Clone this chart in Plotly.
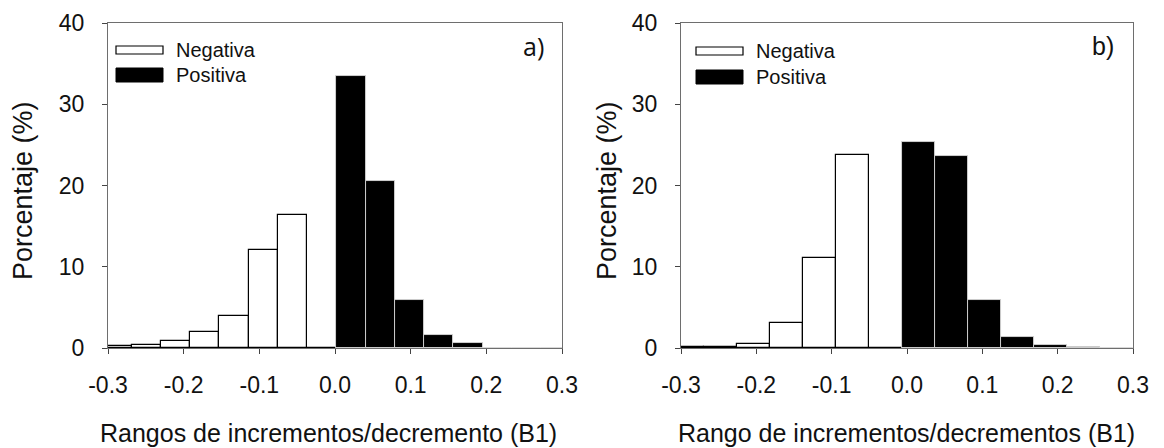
import plotly.graph_objects as go

# ---------------- data ----------------
# panel a) bin centres and percentages
bins_a = [-0.2881, -0.2494, -0.2107, -0.1721, -0.1334, -0.0948, -0.0561, -0.0175,
          0.0212, 0.0599, 0.0985, 0.1372, 0.1758, 0.2145, 0.2531, 0.2918]
width_a = 0.0387
neg_a = [0.25, 0.38, 0.9, 1.93, 3.93, 12.1, 16.4, 0.0]
pos_a = [33.5, 20.5, 5.85, 1.65, 0.57, 0.05, 0.03, 0.03]

# panel b) bin centres and percentages
bins_b = [-0.2918, -0.2480, -0.2042, -0.1604, -0.1166, -0.0728, -0.0290,
          0.0148, 0.0586, 0.1024, 0.1462, 0.1900, 0.2338, 0.2777]
width_b = 0.0438
neg_b = [0.1, 0.1, 0.45, 3.07, 11.1, 23.7, 0.0]
pos_b = [25.3, 23.6, 5.9, 1.35, 0.37, 0.16, 0.0]

x_ticks = [-0.3, -0.2, -0.1, 0.0, 0.1, 0.2, 0.3]
x_ticklabels = ["-0.3", "-0.2", "-0.1", "0.0", "0.1", "0.2", "0.3"]
y_ticks = [0, 10, 20, 30, 40]
series_names = ["Negativa", "Positiva"]
panel_labels = ["a)", "b)"]
x_titles = ["Rangos de incrementos/decremento (B1)", "Rango de incrementos/decrementos (B1)"]
y_title = "Porcentaje (%)"

# ---------------- figure ----------------
OFF = 8                      # page body margin of the html page
W, H = 1164 - 2 * OFF, 448 - OFF
FONT = "Liberation Sans, Arial, sans-serif"
fig = go.Figure()

def add_panel(bins, w, neg, pos, xa, ya):
    nn = len(neg)
    fig.add_trace(go.Bar(x=bins[:nn], y=neg, width=[w] * nn, name=series_names[0],
                         marker=dict(color="white", line=dict(color="black", width=1.2)),
                         xaxis=xa, yaxis=ya, showlegend=False))
    fig.add_trace(go.Bar(x=bins[nn:], y=pos, width=[w] * len(pos), name=series_names[1],
                         marker=dict(color="black", line=dict(color="#d8d8d8", width=0.9)),
                         xaxis=xa, yaxis=ya, showlegend=False))

add_panel(bins_a, width_a, neg_a, pos_a, "x", "y")
add_panel(bins_b, width_b, neg_b, pos_b, "x2", "y2")

def px(x):
    return (x - OFF) / W

def py(y):
    return 1 - (y - OFF) / H

ydom = [py(348), py(23)]
axis_common = dict(showgrid=False, zeroline=False, showline=True, linecolor="#6e6e6e",
                   linewidth=1, mirror=True, ticks="outside", ticklen=5, tickwidth=1,
                   tickcolor="#444444", tickfont=dict(family=FONT, size=23, color="#111111"),
                   automargin=False)

xa = dict(axis_common, range=[-0.3, 0.3], tickvals=x_ticks, ticktext=x_ticklabels,
          ticklabelstandoff=11)
ya = dict(axis_common, range=[0, 40], tickvals=y_ticks, ticklabelstandoff=13)

fig.update_layout(
    width=W, height=H, margin=dict(l=0, r=0, t=0, b=0),
    paper_bgcolor="white", plot_bgcolor="white", barmode="overlay", bargap=0,
    xaxis=dict(xa, domain=[px(108), px(562)], anchor="y"),
    yaxis=dict(ya, domain=ydom, anchor="x"),
    xaxis2=dict(xa, domain=[px(681), px(1133)], anchor="y2"),
    yaxis2=dict(ya, domain=ydom, anchor="x2"),
)

shapes = []
annotations = []
# axis titles
for cx, t in zip([328, 907], x_titles):
    annotations.append(dict(x=px(cx), y=py(433), xref="paper", yref="paper", text=t,
                            showarrow=False, xanchor="center", yanchor="middle",
                            font=dict(family=FONT, size=25, color="#111111")))
for cx in [23, 607]:
    annotations.append(dict(x=px(cx), y=py(191), xref="paper", yref="paper", text=y_title,
                            showarrow=False, textangle=-90, xanchor="center", yanchor="middle",
                            font=dict(family=FONT, size=27, color="#111111")))
# panel labels
for cx, cy, t, fam in [(533, 46, panel_labels[0], "Open Sans, sans-serif"),
                       (1103, 46, panel_labels[1], FONT)]:
    annotations.append(dict(x=px(cx), y=py(cy), xref="paper", yref="paper", text=t,
                            showarrow=False, xanchor="center", yanchor="middle",
                            font=dict(family=fam, size=25, color="#111111")))
# legends
for bx, tx, ny, pyy in [(116, 174, 50, 75), (696, 754, 51, 77)]:
    shapes.append(dict(type="rect", xref="paper", yref="paper",
                       x0=px(bx), x1=px(bx + 47), y0=py(ny + 4), y1=py(ny - 4),
                       fillcolor="white", line=dict(color="black", width=1.2)))
    shapes.append(dict(type="rect", xref="paper", yref="paper",
                       x0=px(bx), x1=px(bx + 47), y0=py(pyy + 7), y1=py(pyy - 7),
                       fillcolor="black", line=dict(color="black", width=1)))
    for yy, name in [(ny, series_names[0]), (pyy, series_names[1])]:
        annotations.append(dict(x=px(tx), y=py(yy), xref="paper", yref="paper", text=name,
                                showarrow=False, xanchor="left", yanchor="middle",
                                font=dict(family=FONT, size=20, color="#111111")))

fig.update_layout(shapes=shapes, annotations=annotations)
fig.write_html("out.html")
